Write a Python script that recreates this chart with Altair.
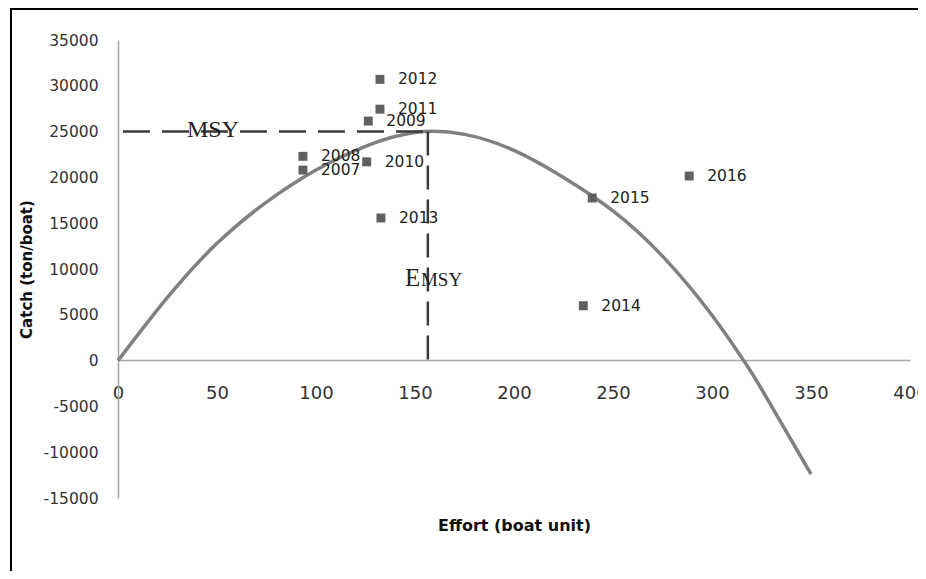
import altair as alt
import pandas as pd

# ---- data ----
years = ["2007", "2008", "2009", "2010", "2011", "2012", "2013", "2014", "2015", "2016"]
effort = [93.4, 93.4, 126.4, 125.6, 132.3, 132.3, 132.8, 235.0, 239.5, 288.5]
catch = [20800, 22300, 26150, 21700, 27450, 30700, 15570, 5990, 17750, 20150]

curve_effort = [0, 25, 50, 75, 100, 125, 150, 175, 200, 225, 250, 275, 300, 316, 325, 350]
curve_catch = [0, 6900, 12800, 17300, 20800, 23400, 24900, 24700, 22950, 20000, 16350, 11400,
               4950, 0, -3100, -12400]

MSY = 25000
E_MSY = 156.5
x_ticks = [0, 50, 100, 150, 200, 250, 300, 350, 400]
y_ticks = [-15000, -10000, -5000, 0, 5000, 10000, 15000, 20000, 25000, 30000, 35000]

pts = pd.DataFrame({"year": years, "effort": effort, "catch": catch})
curve = pd.DataFrame({"effort": curve_effort, "catch": curve_catch})
hline = pd.DataFrame({"x": [2.5], "x2": [E_MSY], "y": [MSY]})
vline = pd.DataFrame({"x": [E_MSY], "y": [MSY], "y2": [0]})
ann_msy = pd.DataFrame({"x": [48], "y": [24400], "t": ["MSY"]})
ann_e = pd.DataFrame({"x": [144.9], "y": [8140], "t": ["E"]})
ann_e_sub = pd.DataFrame({"x": [153], "y": [8140], "t": ["MSY"]})

xs = alt.Scale(domain=[0, 400], nice=False, zero=False)
ys = alt.Scale(domain=[-15000, 35000], nice=False, zero=False)

axis_col = "#a6a6a6"

x_axis = alt.Axis(values=x_ticks, labelExpr="'' + datum.value", grid=False, ticks=False,
                  domainColor=axis_col, domainWidth=1.5, offset=-138, labelFlush=False,
                  labelFont="DejaVu Sans", labelFontSize=18, labelColor="#333333",
                  labelPadding=24, title="Effort (boat unit)", titleFont="DejaVu Sans",
                  titleFontSize=16, titleFontWeight="bold", titleColor="#111111",
                  titlePadding=115)
y_axis = alt.Axis(values=y_ticks, labelExpr="'' + datum.value", grid=False, ticks=False,
                  domainColor=axis_col, domainWidth=1.5, labelFlush=False,
                  labelFont="DejaVu Sans", labelFontSize=15.5, labelColor="#333333",
                  labelPadding=20, title="Catch (ton/boat)", titleFont="DejaVu Sans",
                  titleFontSize=15, titleFontWeight="bold", titleColor="#111111",
                  titlePadding=9)

curve_layer = alt.Chart(curve).mark_line(color="#808080", strokeWidth=3.5, interpolate="natural").encode(
    x=alt.X("effort:Q", scale=xs, axis=x_axis),
    y=alt.Y("catch:Q", scale=ys, axis=y_axis),
    order="effort:Q",
)

h_layer = alt.Chart(hline).mark_rule(color="#3a3a3a", strokeWidth=2.5, strokeDash=[27, 12]).encode(
    x=alt.X("x:Q", scale=xs), x2="x2:Q", y=alt.Y("y:Q", scale=ys)
)
v_layer = alt.Chart(vline).mark_rule(color="#3a3a3a", strokeWidth=2.5, strokeDash=[24, 10]).encode(
    x=alt.X("x:Q", scale=xs), y=alt.Y("y:Q", scale=ys), y2="y2:Q"
)

pt_layer = alt.Chart(pts).mark_point(shape="square", filled=True, size=80, color="#606060", opacity=1).encode(
    x=alt.X("effort:Q", scale=xs), y=alt.Y("catch:Q", scale=ys)
)
lbl_layer = alt.Chart(pts).mark_text(align="left", baseline="middle", dx=18, font="DejaVu Sans",
                                     fontSize=15.5, color="#222222").encode(
    x=alt.X("effort:Q", scale=xs), y=alt.Y("catch:Q", scale=ys), text="year:N"
)

msy_layer = alt.Chart(ann_msy).mark_text(align="center", baseline="alphabetic", font="Liberation Serif",
                                         fontSize=24, color="#222222").encode(
    x=alt.X("x:Q", scale=xs), y=alt.Y("y:Q", scale=ys), text="t:N"
)
e_layer = alt.Chart(ann_e).mark_text(align="left", baseline="alphabetic", font="Liberation Serif",
                                     fontSize=25, color="#222222").encode(
    x=alt.X("x:Q", scale=xs), y=alt.Y("y:Q", scale=ys), text="t:N"
)
esub_layer = alt.Chart(ann_e_sub).mark_text(align="left", baseline="alphabetic", font="Liberation Serif",
                                            fontSize=19, color="#222222").encode(
    x=alt.X("x:Q", scale=xs), y=alt.Y("y:Q", scale=ys), text="t:N"
)

# frame around the chart (decoration)
frame_top = alt.Chart(pd.DataFrame({"a": [0]})).mark_rule(color="#000000", strokeWidth=2).encode(
    x=alt.value(-107), x2=alt.value(900), y=alt.value(-31)
)
frame_left = alt.Chart(pd.DataFrame({"a": [0]})).mark_rule(color="#000000", strokeWidth=2).encode(
    x=alt.value(-107), y=alt.value(-32), y2=alt.value(600)
)

chart = alt.layer(
    curve_layer, h_layer, v_layer, pt_layer, lbl_layer, msy_layer, e_layer, esub_layer,
    frame_top, frame_left
).properties(
    width=792, height=458,
    autosize=alt.AutoSizeParams(type="none"),
    padding={"left": 110, "top": 32, "right": 8, "bottom": 73},
    background="white",
).configure_view(stroke=None)

chart.save("out.html", embed_options={"renderer": "svg", "actions": False})
